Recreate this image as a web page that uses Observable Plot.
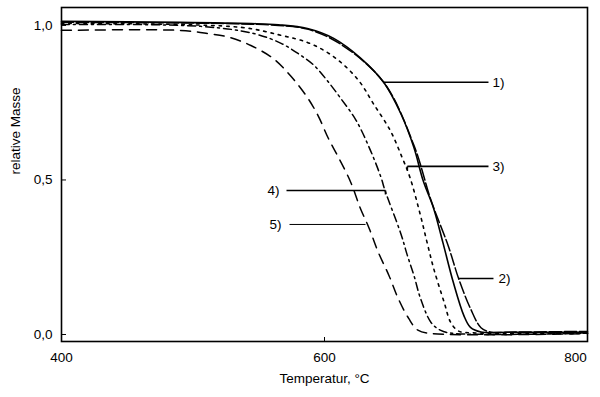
<!DOCTYPE html>
<html><head><meta charset="utf-8">
<script src="https://cdn.jsdelivr.net/npm/d3@7"></script>
<script src="https://cdn.jsdelivr.net/npm/@observablehq/plot@0.6"></script>
<style>body{margin:0;background:#fff} svg{display:block}</style>
</head><body><div id="chart"></div>
<script>
// Series 1 (solid)
const t1 = [400, 490, 544, 565, 587, 607, 627, 645, 658, 668, 675, 683, 690, 698, 706, 711, 719, 740, 800];
const m1 = [1.013, 1.010, 1.006, 1.002, 0.990, 0.958, 0.896, 0.816, 0.715, 0.605, 0.498, 0.408, 0.298, 0.168, 0.061, 0.023, 0.008, 0.007, 0.007];
// Series 2 (long dashes)
const t2 = [400, 490, 544, 565, 587, 612, 645, 668, 681, 694, 702, 711, 719, 726, 745, 800];
const m2 = [1.010, 1.008, 1.004, 1.000, 0.988, 0.940, 0.816, 0.612, 0.434, 0.288, 0.181, 0.084, 0.022, 0.008, 0.008, 0.010];
// Series 3 (dotted)
const t3 = [400, 536, 567, 587, 602, 615, 627, 637, 650, 659, 665, 673, 678, 683, 691, 696, 702, 715, 800];
const m3 = [1.006, 0.994, 0.968, 0.945, 0.913, 0.871, 0.816, 0.748, 0.660, 0.573, 0.508, 0.385, 0.298, 0.214, 0.104, 0.039, 0.011, 0.005, 0.004];
// Series 4 (dash-dot)
const t4 = [400, 506, 546, 567, 582, 592, 602, 612, 624, 635, 643, 646, 658, 663, 668, 673, 681, 688, 697, 800];
const m4 = [1.003, 0.997, 0.974, 0.942, 0.903, 0.871, 0.822, 0.766, 0.693, 0.595, 0.508, 0.466, 0.327, 0.256, 0.191, 0.117, 0.039, 0.014, 0.004, 0.004];
// Series 5 (dashes)
const t5 = [400, 490, 511, 528, 544, 561, 574, 586, 595, 603, 611, 620, 627, 634, 641, 649, 656, 664, 671, 682, 800];
const m5 = [0.984, 0.984, 0.974, 0.961, 0.935, 0.893, 0.838, 0.773, 0.709, 0.634, 0.570, 0.492, 0.411, 0.343, 0.265, 0.191, 0.117, 0.052, 0.014, 0.003, 0.003];

const xTicks = [400, 600, 800];
const yTicks = [0, 0.5, 1];
const xLabel = "Temperatur, °C";
const yLabel = "relative Masse";

// Annotation leaders: label, attach T, attach mass, far-end T, text T
const annLabels = ["1)", "3)", "4)", "5)", "2)"];
const annAttachT = [645, 663, 646.4, 631.2, 702];
const annAttachM = [0.816, 0.544, 0.466, 0.356, 0.181];
const annEndT = [724.7, 724.7, 571.1, 573.4, 728.5];
const annTextT = [727.8, 727.8, 565.8, 567.3, 732.3];

const ann = annLabels.map((l, i) => ({
  label: l, t: annAttachT[i], m: annAttachM[i], e: annEndT[i], tt: annTextT[i],
  left: annEndT[i] < annAttachT[i], thin: l === "5)"
}));

const fmt = d => d3.format(".1f")(d).replace(".", ",");
const FS = 13.5;

const series = [
  {t: t1, m: m1, dash: null, w: 1.6},
  {t: t2, m: m2, dash: "12,3", w: 1.5},
  {t: t3, m: m3, dash: "2.5,5", w: 1.6},
  {t: t4, m: m4, dash: "8,4,2,4", w: 1.5},
  {t: t5, m: m5, dash: "10,7", w: 1.5}
];

const plot = Plot.plot({
  width: 600,
  height: 397,
  marginLeft: 61,
  marginRight: 13,
  marginTop: 7,
  marginBottom: 56,
  style: {fontFamily: "'Liberation Sans', Arial, sans-serif", fontSize: FS + "px", background: "#fff", color: "#000"},
  x: {domain: [400, 800]},
  y: {domain: [-0.0227, 1.058]},
  marks: [
    ...series.map(s => Plot.line(s.t, {x: s.t, y: s.m, stroke: "#000", strokeWidth: s.w, strokeDasharray: s.dash, curve: "catmull-rom"})),
    Plot.link(ann, {x1: "t", y1: "m", x2: "e", y2: "m", stroke: "#000", strokeWidth: d => d.thin ? 1 : 1.6}),
    Plot.link(ann.filter(d => d.label === "3)" || d.label === "4)"), {x1: "t", y1: "m", x2: "t", y2: d => d.m - 0.013, stroke: "#000", strokeWidth: 1.6}),
    Plot.text(ann.filter(d => !d.left), {x: "tt", y: "m", text: "label", textAnchor: "start", fontSize: FS, fill: "#000"}),
    Plot.text(ann.filter(d => d.left), {x: "tt", y: "m", text: "label", textAnchor: "end", fontSize: FS, fill: "#000"}),
    Plot.frame({stroke: "#000", strokeWidth: 1.6}),
    Plot.axisY({ticks: yTicks, tickSize: -5, tickPadding: 14, tickFormat: fmt, label: null, fontSize: FS}),
    Plot.axisX({ticks: xTicks.slice(0, 2), tickSize: -4, tickPadding: 15, tickFormat: d => String(d), label: null, fontSize: FS}),
    Plot.axisX({ticks: xTicks.slice(2), tickSize: 0, tickPadding: 11, tickFormat: d => String(d), label: null, fontSize: FS, dx: -12}),
    Plot.text([xLabel], {frameAnchor: "bottom", dy: 41, fontSize: FS, fill: "#000"}),
    Plot.text([yLabel], {frameAnchor: "left", rotate: -90, dx: -46, fontSize: FS, fill: "#000"})
  ]
});
document.getElementById("chart").appendChild(plot);
</script>
</body></html>
